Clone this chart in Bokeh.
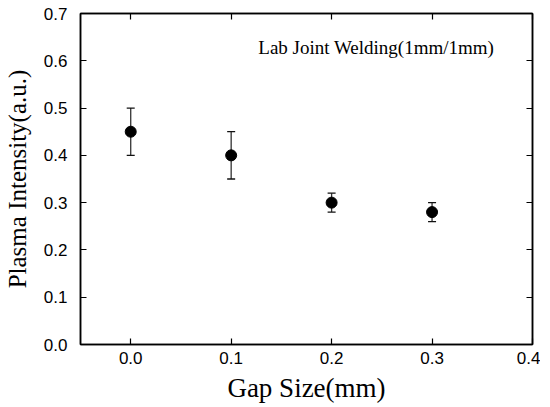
from bokeh.plotting import figure
from bokeh.models import (ColumnDataSource, Whisker, TeeHead, LinearAxis, Label, FixedTicker,
                          Range1d, CustomJSTickFormatter)
from bokeh.embed import file_html
from bokeh.resources import INLINE

gap = [0.0, 0.1, 0.2, 0.3]
intensity = [0.45, 0.40, 0.30, 0.28]
err = [0.05, 0.05, 0.02, 0.02]
x_ticks = [0.0, 0.1, 0.2, 0.3, 0.4]
y_ticks = [0.0, 0.1, 0.2, 0.3, 0.4, 0.5, 0.6, 0.7]

src = ColumnDataSource(dict(
    x=gap, y=intensity,
    lo=[v - e for v, e in zip(intensity, err)],
    hi=[v + e for v, e in zip(intensity, err)],
))

p = figure(frame_width=452, frame_height=331, output_backend="svg", toolbar_location=None,
           x_range=Range1d(-0.05, 0.4), y_range=Range1d(0.0, 0.7),
           min_border_left=71, min_border_right=8, min_border_top=13, min_border_bottom=52)
p.xgrid.visible = False
p.ygrid.visible = False
p.outline_line_color = "black"
p.outline_line_width = 1.5

fmt = "return tick.toFixed(1);"

def style(ax, labels=True):
    ax.major_tick_in = 6
    ax.major_tick_out = 0
    ax.minor_tick_in = 0
    ax.minor_tick_out = 0
    ax.axis_line_width = 1.5
    ax.axis_line_color = "black"
    ax.major_tick_line_color = "black"
    ax.major_tick_line_width = 1.2
    ax.major_label_text_font = "Liberation Sans"
    ax.major_label_text_font_size = "17px"
    ax.major_label_text_color = "black"
    ax.formatter = CustomJSTickFormatter(code=fmt if labels else "return '';")

p.xaxis.ticker = FixedTicker(ticks=x_ticks)
p.yaxis.ticker = FixedTicker(ticks=y_ticks)
style(p.xaxis[0])
style(p.yaxis[0])
p.xaxis.major_label_standoff = 7
p.yaxis.major_label_standoff = 13

p.xaxis.axis_label = "Gap Size(mm)"
p.yaxis.axis_label = "Plasma Intensity(a.u.)"
for ax, sz in ((p.xaxis[0], "27px"), (p.yaxis[0], "25px")):
    ax.axis_label_text_font = "Liberation Serif"
    ax.axis_label_text_font_size = sz
    ax.axis_label_text_font_style = "normal"
    ax.axis_label_text_color = "black"
p.xaxis.axis_label_standoff = 6
p.yaxis.axis_label_standoff = 10

top = LinearAxis(ticker=FixedTicker(ticks=x_ticks))
right = LinearAxis(ticker=FixedTicker(ticks=y_ticks))
style(top, False)
style(right, False)
top.major_label_standoff = 0
right.major_label_standoff = 0
p.add_layout(top, "above")
p.add_layout(right, "right")

wh = Whisker(source=src, base="x", lower="lo", upper="hi", line_color="#333333", line_width=1.3,
             upper_head=TeeHead(size=8, line_color="#111111", line_width=1.3),
             lower_head=TeeHead(size=8, line_color="#111111", line_width=1.3))
p.add_layout(wh)
p.scatter("x", "y", source=src, size=11, marker="circle", fill_color="black", line_color="black")

lab = Label(x=0.127, y=0.628, text="Lab Joint Welding(1mm/1mm)", text_font="Liberation Serif",
            text_font_size="19px", text_baseline="middle", text_color="black")
p.add_layout(lab)

open("out.html", "w").write(file_html(p, INLINE))
